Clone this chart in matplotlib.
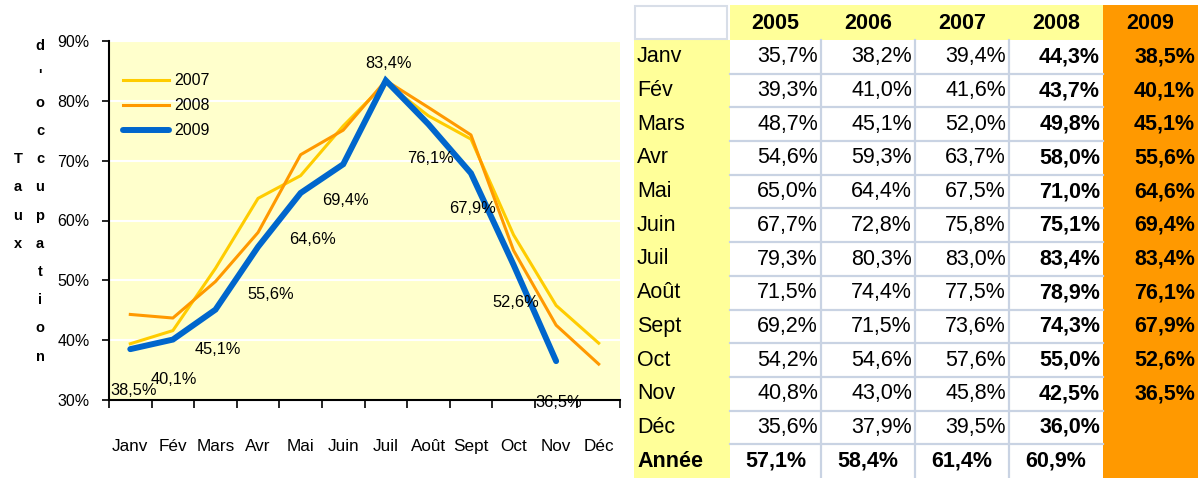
import numpy as np
import matplotlib
matplotlib.use("Agg")
import matplotlib.pyplot as plt
from matplotlib.patches import Rectangle

W, H = 1198, 478
plt.rcParams['font.family'] = ['Liberation Sans', 'DejaVu Sans']

# data
months = ["Janv", "Fév", "Mars", "Avr", "Mai", "Juin", "Juil", "Août", "Sept", "Oct", "Nov", "Déc"]
years = ["2005", "2006", "2007", "2008", "2009"]
occ_2005 = [35.7, 39.3, 48.7, 54.6, 65.0, 67.7, 79.3, 71.5, 69.2, 54.2, 40.8, 35.6]
occ_2006 = [38.2, 41.0, 45.1, 59.3, 64.4, 72.8, 80.3, 74.4, 71.5, 54.6, 43.0, 37.9]
occ_2007 = [39.4, 41.6, 52.0, 63.7, 67.5, 75.8, 83.0, 77.5, 73.6, 57.6, 45.8, 39.5]
occ_2008 = [44.3, 43.7, 49.8, 58.0, 71.0, 75.1, 83.4, 78.9, 74.3, 55.0, 42.5, 36.0]
occ_2009 = [38.5, 40.1, 45.1, 55.6, 64.6, 69.4, 83.4, 76.1, 67.9, 52.6, 36.5]
annee = [57.1, 58.4, 61.4, 60.9]
ylabel_1 = "Taux"
ylabel_2 = "d'occupation"


def pct(v):
    return f"{v:.1f}%".replace(".", ",")


fig = plt.figure(figsize=(W / 100, H / 100), dpi=100)

# overlay in pixel coords for table + vertical label
tax = fig.add_axes([0, 0, 1, 1])
tax.set_xlim(0, W)
tax.set_ylim(H, 0)
tax.axis("off")

# ---- chart ----
ax = fig.add_axes([109 / W, 1 - 400 / H, (620 - 109) / W, (400 - 41) / H])
ax.set_facecolor("#FFFFCC")
x = np.arange(len(months))
ax.plot(x, occ_2007, color="#FFCC00", lw=2.2, label="2007")
ax.plot(x, occ_2008, color="#FF9900", lw=2.2, label="2008")
ax.plot(x[:len(occ_2009)], occ_2009, color="#0066CC", lw=4.3,
        solid_capstyle="round", solid_joinstyle="miter", label="2009")

ax.set_xlim(-0.5, len(months) - 0.5)
ax.set_ylim(30, 90)
yt = list(range(30, 91, 10))
ax.set_yticks(yt)
ax.set_yticklabels([f"{v}%" for v in yt], fontsize=11.5)
ax.tick_params(axis="y", direction="out", length=5, width=1.2, pad=9)
ax.set_xticks(np.arange(-0.5, len(months), 1))
ax.set_xticklabels([])
ax.tick_params(axis="x", which="major", direction="out", length=6, width=1.2)
ax.set_xticks(x, minor=True)
ax.set_xticklabels(months, minor=True, fontsize=12.3)
ax.tick_params(axis="x", which="minor", length=0, pad=28)
ax.grid(axis="y", color="white", lw=1.5)
ax.set_axisbelow(True)
for s in ["top", "right"]:
    ax.spines[s].set_visible(False)
for s in ["left", "bottom"]:
    ax.spines[s].set_linewidth(1.5)

leg = ax.legend(loc="upper left", bbox_to_anchor=(0.027, 0.91), frameon=False,
                fontsize=11.5, handlelength=2.9, handletextpad=0.35,
                labelspacing=0.62, borderpad=0, borderaxespad=0)

# data labels for 2009 (offsets in px: right, down)
offsets = [(3, 41), (1, 40), (2, 40), (13, 48), (12, 47), (2, 36),
           (3, -17), (2, 34), (2, 35), (2, 38), (3, 41)]
for i, v in enumerate(occ_2009):
    dx, dy = offsets[i]
    ax.annotate(pct(v), (x[i], v), xytext=(dx * 0.72, -dy * 0.72),
                textcoords="offset points", ha="center", va="center",
                fontsize=11.8, annotation_clip=False)

# vertical axis title, one letter per line
step = 28.2
mid = 201.5
for i, ch in enumerate(ylabel_1):
    tax.text(18, mid + (i - (len(ylabel_1) - 1) / 2) * step, ch, ha="center",
             va="center", fontsize=10.5, fontweight="bold")
for i, ch in enumerate(ylabel_2):
    tax.text(40, mid + (i - (len(ylabel_2) - 1) / 2) * step, ch, ha="center",
             va="center", fontsize=10.5, fontweight="bold")

# ---- table ----
col_edges = [634, 730, 821, 915, 1009, 1103, 1198]
top, head_bot = 5, 40
row_h = (H - head_bot) / 13
yellow = "#FFFF99"
orange = "#FF9900"
sep = "#C9D3E3"

tax.add_patch(Rectangle((col_edges[0], head_bot), col_edges[1] - col_edges[0],
                        H - head_bot, color=yellow, lw=0))
tax.add_patch(Rectangle((col_edges[1], top), col_edges[5] - col_edges[1],
                        head_bot - top, color=yellow, lw=0))
tax.add_patch(Rectangle((col_edges[5], top), col_edges[6] - col_edges[5],
                        H - top, color=orange, lw=0))
tax.add_patch(Rectangle((col_edges[0] + 1, top + 1), col_edges[1] - col_edges[0] - 4,
                        head_bot - top - 2, facecolor="white", edgecolor="#D8DEE8", lw=1.5))

for r in range(1, 13):
    yy = head_bot + r * row_h
    tax.plot([col_edges[1], col_edges[5]], [yy, yy], color=sep, lw=1.6)
for c in range(2, 5):
    tax.plot([col_edges[c], col_edges[c]], [head_bot, H], color=sep, lw=1.6)

for c, yr in enumerate(years):
    tax.text((col_edges[c + 1] + col_edges[c + 2]) / 2, (top + head_bot) / 2 + 1, yr,
             ha="center", va="center", fontsize=15.5, fontweight="bold")

table_cols = [occ_2005, occ_2006, occ_2007, occ_2008, occ_2009]
for r, m in enumerate(months):
    yc = head_bot + (r + 0.5) * row_h
    tax.text(col_edges[0] + 3, yc, m, ha="left", va="center", fontsize=15.5)
    for c, vals in enumerate(table_cols):
        if r < len(vals):
            tax.text(col_edges[c + 2] - 3, yc, pct(vals[r]), ha="right", va="center",
                     fontsize=15.5, fontweight="bold" if c >= 3 else "normal")

yc = head_bot + 12.5 * row_h
tax.text(col_edges[0] + 3, yc, "Année", ha="left", va="center", fontsize=15.5,
         fontweight="bold")
for c, v in enumerate(annee):
    tax.text((col_edges[c + 1] + col_edges[c + 2]) / 2, yc, pct(v), ha="center",
             va="center", fontsize=15.5, fontweight="bold")

fig.savefig("out.png", dpi=100)
